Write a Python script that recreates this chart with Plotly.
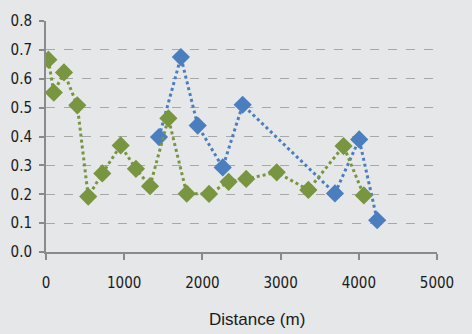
import plotly.graph_objects as go

# green series
green_x = [30, 100, 230, 400, 540, 720, 955, 1150, 1330, 1565, 1800, 2085, 2335, 2560, 2950, 3355, 3805, 4065]
green_y = [0.666, 0.552, 0.622, 0.508, 0.192, 0.272, 0.369, 0.288, 0.228, 0.463, 0.202, 0.201, 0.243, 0.253, 0.276, 0.215, 0.367, 0.196]

# blue series
blue_x = [1445, 1725, 1940, 2260, 2515, 3695, 4005, 4235]
blue_y = [0.398, 0.675, 0.438, 0.293, 0.510, 0.203, 0.390, 0.110]

x_ticks = [0, 1000, 2000, 3000, 4000, 5000]
y_ticks = [0.0, 0.1, 0.2, 0.3, 0.4, 0.5, 0.6, 0.7, 0.8]

fig = go.Figure()

fig.add_trace(go.Scatter(
    x=blue_x, y=blue_y, mode='lines+markers',
    line=dict(color='#4a7ebf', width=3, dash='dot'),
    marker=dict(symbol='diamond', size=14, color='#4a7ebf'),
    showlegend=False))

fig.add_trace(go.Scatter(
    x=green_x, y=green_y, mode='lines+markers',
    line=dict(color='#77963f', width=3, dash='dot'),
    marker=dict(symbol='diamond', size=14, color='#77963f'),
    showlegend=False))

fig.update_layout(
    width=472, height=334,
    margin=dict(l=46, r=35, t=21, b=82),
    paper_bgcolor='#e6e7e9', plot_bgcolor='#e6e7e9',
    font=dict(family='Liberation Sans Narrow, DejaVu Sans Condensed, sans-serif', size=15, color='#1a1a1a'),
    xaxis=dict(range=[0, 5000], tickvals=x_ticks, ticktext=[str(v) for v in x_ticks],
               showgrid=False, zeroline=False, showline=True, linecolor='#8a8a8a', linewidth=2,
               ticks='outside', ticklen=6, tickwidth=2, tickcolor='#8a8a8a',
               ticklabelstandoff=10, automargin=False),
    yaxis=dict(range=[0, 0.8], tickvals=y_ticks, ticktext=['%.1f' % v for v in y_ticks],
               showgrid=True, gridcolor='#a8a8a8', griddash='dash', gridwidth=1,
               zeroline=False, showline=True, linecolor='#8a8a8a', linewidth=2,
               ticks='outside', ticklen=5, tickwidth=2, tickcolor='#8a8a8a',
               ticklabelstandoff=4, automargin=False),
    annotations=[dict(text='Distance (m)', x=0.54, y=-0.294, xref='paper', yref='paper',
                      xanchor='center', yanchor='middle', showarrow=False,
                      font=dict(family='Liberation Sans, Arial', size=17, color='#1a1a1a'))],
)

# drop the browser's default page margin so the figure sits at the window corner
fig.write_html("out.html", config={'displayModeBar': False},
               post_script="document.body.style.margin='0';")
